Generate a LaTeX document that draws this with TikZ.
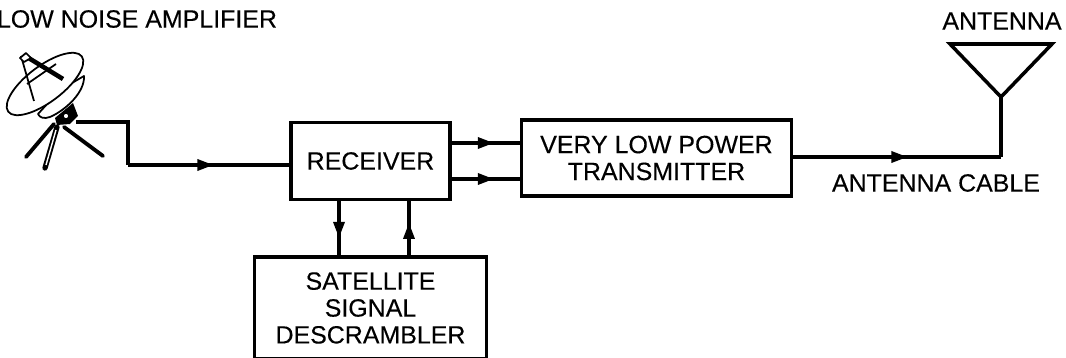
\documentclass[tikz,border=0pt]{standalone}
\usepackage{fontspec}
\setmainfont[FakeBold=0.25]{Liberation Sans}
\usepackage{tikz}
\usetikzlibrary{positioning,arrows.meta,decorations.markings}
\tikzset{
    sigblock/.style={draw, line width=2pt, align=center, font=\fontsize{14.2}{15.3}\selectfont, inner sep=0pt},
    siglabel/.style={align=center, font=\fontsize{14.2}{15.3}\selectfont, inner sep=0pt},
    sigline/.style={draw, line width=1.8pt, line join=miter},
    sigarrow/.style={sigline, postaction={decorate}, decoration={markings, mark=at position #1 with {\arrow{Triangle[length=0.32cm, width=0.22cm]}}}},
    sigarrow/.default=0.62,
    dishline/.style={draw, line width=1pt, fill=white, line join=round},
    dishleg/.style={draw, line width=2.2pt, line cap=round}
}

\begin{document}
\begin{tikzpicture}[x=0.02cm, y=-0.02cm]
    \useasboundingbox (0,0) rectangle (1066,358);

    \node[sigblock, minimum width=3.18cm, minimum height=1.54cm] (receiver) at (370.5,161) {RECEIVER};
    \node[sigblock, minimum width=5.4cm, minimum height=1.52cm, right=1.36cm of receiver, yshift=0.06cm] (transmitter) {VERY LOW POWER\\TRANSMITTER};
    \node[sigblock, minimum width=4.64cm, minimum height=2.04cm, below=1.08cm of receiver] (descrambler) {SATELLITE\\SIGNAL\\DESCRAMBLER};

    \node[siglabel] (lnalabel) at (137,19) {LOW NOISE AMPLIFIER};
    \node[siglabel] (antlabel) at (1002,21) {ANTENNA};
    \node[siglabel] (cablelabel) at (936,183) {ANTENNA CABLE};

    % dish
    \draw[dishline] (84,76) .. controls (85,92) and (66,110) .. (50,117) .. controls (44,119) and (40,118) .. (38,114) -- (60,90) -- cycle;
    \draw[dishline] (45,84) ellipse [x radius=46, y radius=18, rotate=37];
    \draw[line width=1pt] (21,56) -- (34,101);
    \draw[line width=1pt] (27,84) -- (56,64);
    \draw[line width=2.6pt] (27,57) -- (63,79);
    \draw[dishline] (20,58) -- (26,53) -- (31,58) -- (24,62) -- cycle;
    \draw[dishleg] (54,124) -- (26,157);
    \draw[line width=3pt, line cap=round] (57,127) -- (45,168);
    \draw[white, line width=0.8pt] (56,130) -- (46,165);
    \draw[dishleg] (64,127) -- (103,156);
    \fill (55,118) -- (73,103) -- (78,116) -- (70,124) -- (57,125) -- cycle;
    \draw[dishline, line width=0.8pt] (66,116) circle (3);

    % antenna
    \coordinate (apex) at (1001,97);
    \draw[line width=2pt, line join=miter] (950,44) -- (1052,44) -- (apex) -- cycle;
    \coordinate (dishout) at (76,122);
    \coordinate (dishbend) at (128,165);
    \coordinate (cablebend) at (1001,157);

    \draw[sigline] (dishout) -- (128,122) -- (dishbend);
    \draw[sigarrow=0.53] (dishbend) -- (receiver.west |- dishbend);
    \draw[sigarrow] ([yshift=0.36cm]receiver.east) -- ([yshift=0.36cm]receiver.east -| transmitter.west);
    \draw[sigarrow] ([yshift=-0.36cm]receiver.east) -- ([yshift=-0.36cm]receiver.east -| transmitter.west);
    \draw[sigarrow=0.68] ([xshift=-0.63cm]receiver.south) -- ([xshift=-0.63cm]receiver.south |- descrambler.north);
    \draw[sigarrow=0.6] ([xshift=0.77cm]descrambler.north) -- ([xshift=0.77cm]descrambler.north |- receiver.south);
    \draw[sigarrow=0.55] (transmitter.east |- cablebend) -- (cablebend);
    \draw[sigline] (cablebend) -- (apex);
\end{tikzpicture}
\end{document}
